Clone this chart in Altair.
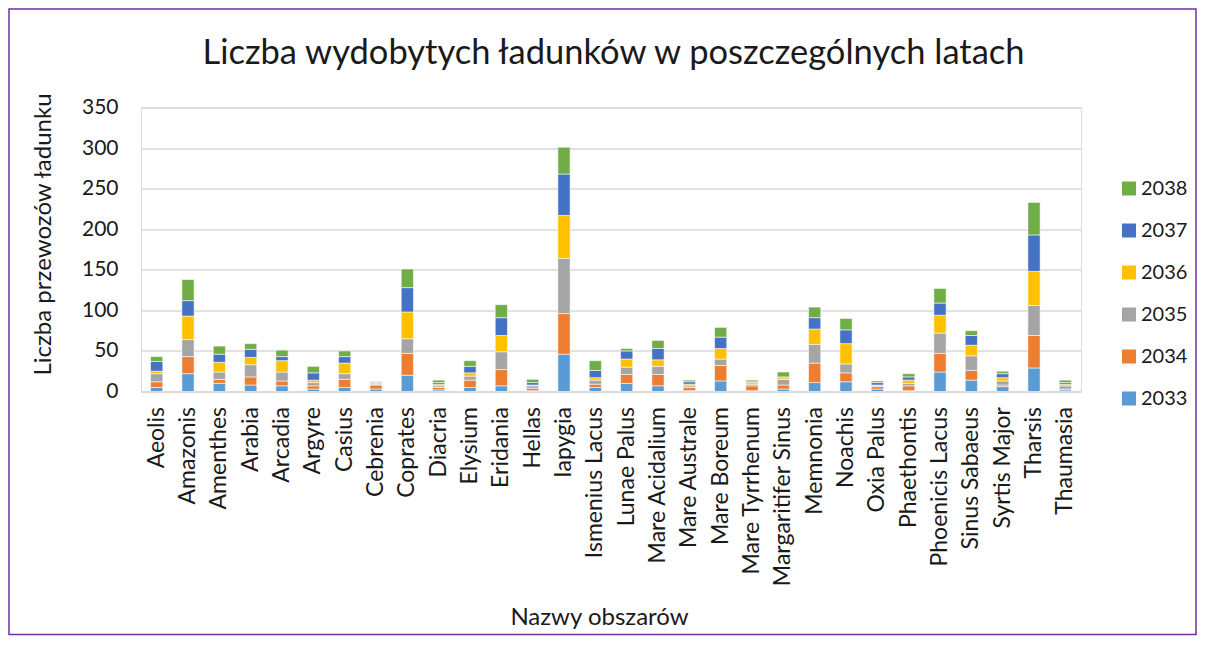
import altair as alt
import pandas as pd

categories = ["Aeolis", "Amazonis", "Amenthes", "Arabia", "Arcadia", "Argyre", "Casius",
              "Cebrenia", "Coprates", "Diacria", "Elysium", "Eridania", "Hellas", "Iapygia",
              "Ismenius Lacus", "Lunae Palus", "Mare Acidalium", "Mare Australe", "Mare Boreum",
              "Mare Tyrrhenum", "Margaritifer Sinus", "Memnonia", "Noachis", "Oxia Palus",
              "Phaethontis", "Phoenicis Lacus", "Sinus Sabaeus", "Syrtis Major", "Tharsis",
              "Thaumasia"]

years = ["2033", "2034", "2035", "2036", "2037", "2038"]

v2033 = [5, 22, 10, 8, 7, 3, 5, 3, 20, 2, 5, 7, 1, 46, 5, 10, 7, 1, 13, 1, 3, 11, 12, 3, 1, 24, 14, 6, 29, 2]
v2034 = [7, 21, 5, 10, 6, 4, 10, 5, 27, 3, 9, 20, 3, 50, 4, 11, 14, 4, 19, 6, 5, 24, 11, 3, 6, 23, 12, 2, 40, 1]
v2035 = [10, 21, 9, 15, 11, 4, 7, 1, 18, 2, 5, 22, 3, 68, 5, 9, 10, 2, 8, 2, 7, 23, 11, 1, 3, 25, 18, 5, 37, 4]
v2036 = [3, 29, 12, 9, 14, 3, 13, 1, 33, 2, 4, 20, 1, 53, 3, 10, 8, 2, 13, 2, 2, 19, 25, 1, 4, 22, 13, 4, 42, 2]
v2037 = [12, 19, 10, 10, 5, 9, 8, 1, 30, 2, 8, 22, 3, 51, 9, 10, 14, 3, 14, 1, 1, 14, 17, 3, 4, 15, 12, 5, 45, 2]
v2038 = [6, 26, 10, 7, 8, 8, 7, 1, 23, 3, 7, 16, 4, 33, 12, 3, 10, 2, 12, 2, 6, 13, 14, 2, 4, 18, 6, 3, 40, 3]

series = [v2033, v2034, v2035, v2036, v2037, v2038]
colors = ["#5B9BD5", "#ED7D31", "#A5A5A5", "#FFC000", "#4472C4", "#70AD47"]
y_ticks = [0, 50, 100, 150, 200, 250, 300, 350]
title_text = "Liczba wydobytych ładunków w poszczególnych latach"

rows = []
for yi, (yr, vals) in enumerate(zip(years, series)):
    for cat, v in zip(categories, vals):
        rows.append({"obszar": cat, "rok": yr, "idx": yi, "wartosc": v})
df = pd.DataFrame(rows)

FONT = "Lato"
TXT = "#1a1a1a"
W, H = 940, 284

bars = alt.Chart(df).mark_bar(stroke="white", strokeWidth=0.8, strokeOpacity=0.7).encode(
    x=alt.X("obszar:N", sort=categories,
            scale=alt.Scale(paddingInner=0.61, paddingOuter=0.305),
            axis=alt.Axis(title="Nazwy obszarów", labelAngle=-90, labelFontSize=23,
                          labelFont=FONT, labelColor=TXT, labelPadding=15, ticks=False,
                          domainColor="#D9D9D9", domainWidth=1.5,
                          titleFont=FONT, titleFontSize=24, titleFontWeight="normal",
                          titleColor=TXT, titleX=458, titleY=233,
                          titleBaseline="alphabetic", titleAnchor="start", titleAlign="center")),
    y=alt.Y("wartosc:Q", stack="zero",
            scale=alt.Scale(domain=[0, 350], nice=False),
            axis=alt.Axis(title="Liczba przewozów ładunku", values=y_ticks,
                          labelFontSize=21, labelFont=FONT, labelColor=TXT, labelPadding=23,
                          ticks=False, domain=False, gridColor="#D9D9D9", gridWidth=1.5,
                          titleFont=FONT, titleFontSize=24, titleFontWeight="normal",
                          titleColor=TXT, titleX=-91, titleY=126.5, titleAngle=-90,
                          titleBaseline="alphabetic", titleAlign="center", titleAnchor="start")),
    color=alt.Color("rok:N",
                    scale=alt.Scale(domain=years[::-1], range=colors[::-1]),
                    legend=alt.Legend(title=None, orient="none", legendX=978, legendY=71,
                                      symbolType="square", symbolSize=196, symbolStrokeWidth=0,
                                      labelFontSize=20, labelFont=FONT, labelColor=TXT,
                                      labelOffset=2, rowPadding=22, padding=0)),
    order=alt.Order("idx:Q", sort="ascending"),
)

one_row = alt.Data(values=[{"t": title_text}])

border = alt.Chart(one_row).mark_rect(
    filled=False, stroke="#7030A0", strokeWidth=1.5
).encode(
    x=alt.value(-132), x2=alt.value(1055), y=alt.value(-98.5), y2=alt.value(527)
)

title = alt.Chart(one_row).mark_text(
    font=FONT, fontSize=34.5, color=TXT, align="center", baseline="alphabetic"
).encode(
    text="t:N", x=alt.value(472.5), y=alt.value(-44)
)

chart = alt.layer(border, title, bars).properties(
    width=W, height=H,
    autosize=alt.AutoSizeParams(type="none"),
    padding={"left": 133, "top": 99.5, "right": 116, "bottom": 244},
).configure_view(stroke=None).configure(background="white")

chart.save("out.html", embed_options={"renderer": "svg", "actions": False})
